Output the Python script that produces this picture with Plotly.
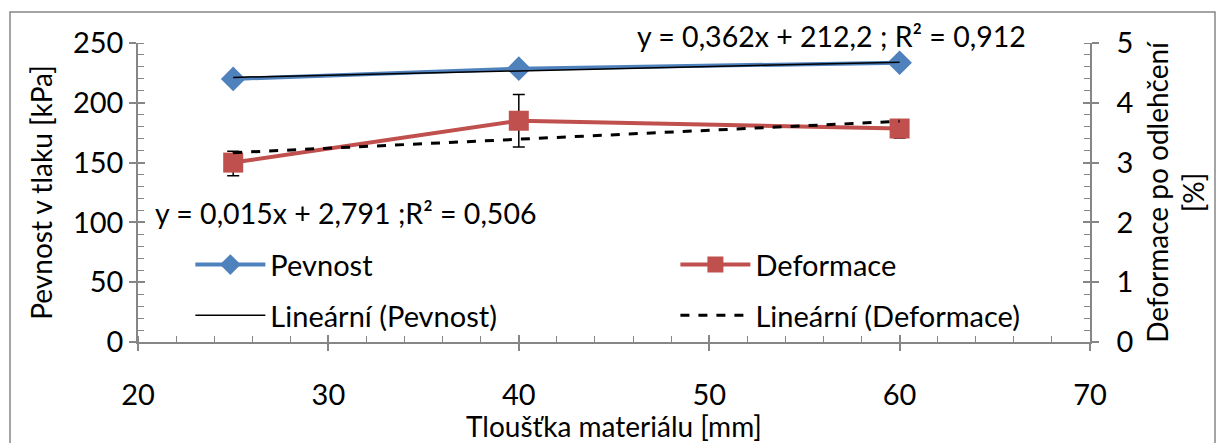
import plotly.graph_objects as go

# ---- data ----
thickness = [25, 40, 60]                 # Tloušťka materiálu [mm]
pevnost = [220, 228.5, 233.5]            # Pevnost v tlaku [kPa]
deformace = [3.0, 3.70, 3.57]            # Deformace po odlehčení [%]
deform_err_plus = [0.19, 0.44, 0.14]
deform_err_minus = [0.22, 0.44, 0.16]
# trendline coefficients as printed in the chart
pev_slope, pev_intercept = 0.362, 212.2
def_slope, def_intercept = 0.015, 2.791
eq_pev = "y = 0,362x + 212,2 ; R² = 0,912"
eq_def = "y = 0,015x + 2,791 ;R² = 0,506"

trend_x = [min(thickness), max(thickness)]
pev_trend = [pev_slope * x + pev_intercept for x in trend_x]
def_trend = [def_slope * x + def_intercept for x in trend_x]

FONT = "Lato"
BLUE = "#4F81BD"
RED = "#C0504D"
AX = "#868686"

fig = go.Figure()
fig.add_trace(go.Scatter(
    x=thickness, y=pevnost, name="Pevnost", mode="lines+markers",
    line=dict(color=BLUE, width=4), marker=dict(symbol="diamond", size=19, color=BLUE),
    legend="legend", legendgroup="a"))
fig.add_trace(go.Scatter(
    x=thickness, y=deformace, name="Deformace", mode="lines+markers", yaxis="y2",
    line=dict(color=RED, width=4), marker=dict(symbol="square", size=20, color=RED),
    error_y=dict(type="data", symmetric=False, array=deform_err_plus,
                 arrayminus=deform_err_minus, color="black", thickness=1.5, width=6),
    legend="legend2", legendgroup="c"))
fig.add_trace(go.Scatter(
    x=trend_x, y=pev_trend, name="Lineární (Pevnost)", mode="lines",
    line=dict(color="black", width=1.5), legend="legend", legendgroup="b"))
fig.add_trace(go.Scatter(
    x=trend_x, y=def_trend, name="Lineární (Deformace)", mode="lines", yaxis="y2",
    line=dict(color="black", width=3, dash="dash"), legend="legend2", legendgroup="d"))
# invisible traces hosting overlay axes that draw the inner half of crossing major ticks
fig.add_trace(go.Scatter(x=[20], y=[0], xaxis="x2", yaxis="y3", mode="markers",
                         marker=dict(opacity=0), showlegend=False, hoverinfo="skip"))
fig.add_trace(go.Scatter(x=[20], y=[0], xaxis="x2", yaxis="y4", mode="markers",
                         marker=dict(opacity=0), showlegend=False, hoverinfo="skip"))

tickfont = dict(family=FONT, size=29, color="black")
titlefont = dict(family=FONT, size=28, color="black")
legfont = dict(family=FONT, size=29, color="black")
eqfont = dict(family=FONT, size=28.5, color="black")

fig.update_layout(
    width=1218, height=443,
    margin=dict(l=138, r=128, t=43, b=101),
    paper_bgcolor="white", plot_bgcolor="white",
    font=dict(family=FONT, color="black"),
    xaxis=dict(range=[20, 70], dtick=10, tick0=20, showgrid=False, zeroline=False,
               showline=True, linecolor=AX, linewidth=1.5, ticks="outside", ticklen=7,
               tickcolor=AX, tickwidth=1.5, tickfont=tickfont, ticklabelstandoff=19,
               minor=dict(dtick=2, ticks="inside", ticklen=6, tickcolor=AX, tickwidth=1.2),
               title=dict(text="Tloušťka materiálu [mm]", font=titlefont, standoff=2)),
    yaxis=dict(range=[0, 250], dtick=50, showgrid=False, zeroline=False,
               showline=True, linecolor=AX, linewidth=1.5, ticks="outside", ticklen=7,
               tickcolor=AX, tickwidth=1.5, tickfont=tickfont,
               minor=dict(dtick=10, ticks="inside", ticklen=6, tickcolor=AX, tickwidth=1.2),
               title=dict(text="Pevnost v tlaku [kPa]", font=titlefont, standoff=12)),
    yaxis2=dict(range=[0, 5], dtick=1, overlaying="y", side="right", showgrid=False,
                zeroline=False, showline=True, linecolor=AX, linewidth=1.5,
                ticks="outside", ticklen=7, tickcolor=AX, tickwidth=1.5, tickfont=tickfont,
                ticklabelstandoff=12,
                minor=dict(dtick=0.2, ticks="inside", ticklen=6, tickcolor=AX, tickwidth=1.2),
                title=dict(text="Deformace po odlehčení<br>[%]", font=titlefont, standoff=16)),
    xaxis2=dict(range=[20, 70], dtick=10, tick0=20, overlaying="x", anchor="y3",
                showgrid=False, zeroline=False, showline=False, ticks="inside", ticklen=7,
                tickcolor=AX, tickwidth=1.5, showticklabels=False),
    yaxis3=dict(range=[0, 250], dtick=50, overlaying="y", anchor="x2", side="left",
                showgrid=False, zeroline=False, showline=False, ticks="inside", ticklen=7,
                tickcolor=AX, tickwidth=1.5, showticklabels=False),
    yaxis4=dict(range=[0, 5], dtick=1, overlaying="y", anchor="x2", side="right",
                showgrid=False, zeroline=False, showline=False, ticks="inside", ticklen=7,
                tickcolor=AX, tickwidth=1.5, showticklabels=False),
    legend=dict(x=0.055, y=0.173, xanchor="left", yanchor="middle", bgcolor="rgba(0,0,0,0)",
                font=legfont, itemwidth=70, tracegroupgap=10, traceorder="grouped"),
    legend2=dict(x=0.5645, y=0.173, xanchor="left", yanchor="middle", bgcolor="rgba(0,0,0,0)",
                 font=legfont, itemwidth=70, tracegroupgap=10, traceorder="grouped"),
    showlegend=True,
    annotations=[
        dict(text=eq_pev, xref="paper", yref="paper", x=0.728, y=1.025, showarrow=False,
             font=eqfont, xanchor="center", yanchor="middle"),
        dict(text=eq_def, xref="paper", yref="paper", x=0.2175, y=0.431, showarrow=False,
             font=eqfont, xanchor="center", yanchor="middle"),
    ],
    shapes=[dict(type="rect", xref="paper", yref="paper",
                 x0=(10 - 138) / 952, x1=(1215 - 138) / 952,
                 y0=(342 - 470) / 299, y1=(342 - 12) / 299,
                 line=dict(color=AX, width=1.5), fillcolor="rgba(0,0,0,0)", layer="below")],
)

fig.write_html("out.html")
